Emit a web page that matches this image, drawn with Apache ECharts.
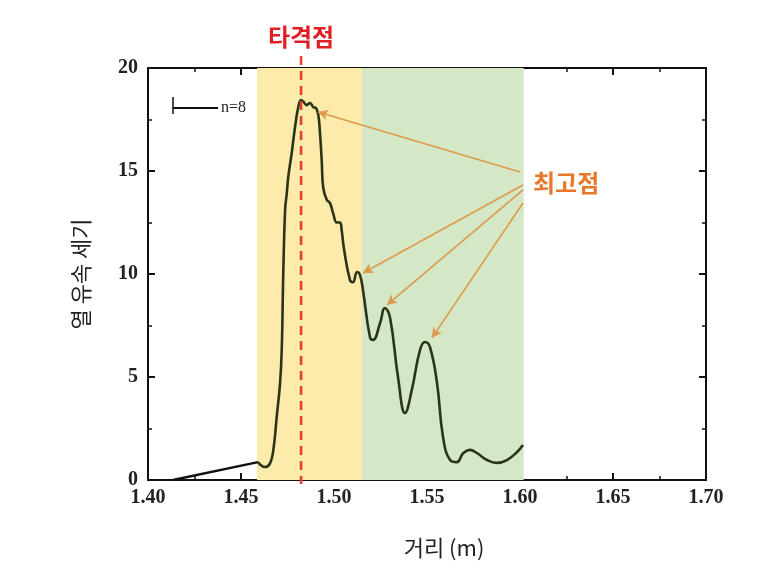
<!DOCTYPE html>
<html>
<head>
<meta charset="utf-8">
<script src="https://cdn.jsdelivr.net/npm/echarts@6/dist/echarts.min.js"></script>
<style>
html,body{margin:0;padding:0;background:#fff;}
#c{width:774px;height:584px;}
</style>
</head>
<body>
<div id="c"></div>
<script>
// ---- data ----
const distance = [1.4134,1.4591,1.4629,1.4656,1.4674,1.4692,1.4710,1.4719,1.4727,1.4737,1.4746,1.4754,1.4773,1.4790,1.4808,1.4823,1.4835,1.4853,1.4871,1.4889,1.4903,1.4916,1.4925,1.4934,1.4942,1.4961,1.4978,1.4995,1.5015,1.5032,1.5041,1.5054,1.5086,1.5102,1.5124,1.5140,1.5156,1.5194,1.5210,1.5247,1.5274,1.5301,1.5344,1.5382,1.5419,1.5462,1.5489,1.5516,1.5554,1.5586,1.5624,1.5661,1.5694,1.5731,1.5769,1.5823,1.5876,1.5930,1.5984,1.6016];
const intensity = [0,0.87,0.63,0.81,1.46,3.07,4.7,6.3,9.9,13.1,13.9,14.7,15.9,17.1,18.1,18.45,18.37,18.2,18.3,18.1,18.06,17.7,16.8,15.5,14.2,13.6,13.45,12.96,12.5,12.5,12.14,11.2,9.7,9.6,10.1,9.95,9.2,6.9,6.8,7.6,8.35,7.9,5.0,3.25,4.4,6.3,6.7,6.45,4.7,2.1,0.97,0.87,1.3,1.46,1.3,0.97,0.83,0.97,1.36,1.7];
const yellowBand = [1.4586, 1.5151];
const greenBand = [1.5151, 1.602];
const impactX = 1.4823;
const arrowStarts = [[1.6000,14.95],[1.6016,14.32],[1.6016,14.08],[1.6016,13.45]];
const arrowEnds = [[1.4914,17.86],[1.5156,10.05],[1.5285,8.5],[1.5527,6.9]];
const xTicks = {min:1.40, max:1.70, interval:0.05};
const yTicks = {min:0, max:20, interval:5};
const xTitle = '거리 (m)';
const yTitle = '열 유속 세기';
const impactLabel = '타격점';
const peakLabel = '최고점';
const scaleLabel = 'n=8';

const allPoints = distance.map((x,i)=>[x,intensity[i]]);
const baseSegment = allPoints.slice(0,2);   // straight baseline ramp
const measured = allPoints.slice(1);        // measured profile

const chart = echarts.init(document.getElementById('c'), null, {renderer:'canvas'});
const tickFont = {fontFamily:'Liberation Serif', fontWeight:'bold', fontSize:20, color:'#222'};
const axLine = {show:true, onZero:false, lineStyle:{color:'#111', width:2}};
const axTick = {show:true, inside:true, length:7, lineStyle:{color:'#111', width:2}};
const minTick = {show:true, splitNumber:2, length:4, lineStyle:{color:'#111', width:1.5}};
const cjk = 'Noto Sans CJK KR';

chart.setOption({
  animation:false,
  backgroundColor:'#fff',
  grid:{left:148, right:68, top:68, bottom:104, containLabel:false},
  xAxis:[{
    type:'value', min:xTicks.min, max:xTicks.max, interval:xTicks.interval,
    axisLine:axLine, axisTick:axTick, minorTick:minTick, splitLine:{show:false},
    axisLabel:Object.assign({margin:8, formatter:v=>v.toFixed(2)}, tickFont),
    name:xTitle, nameLocation:'middle', nameGap:57,
    nameTextStyle:{fontFamily:cjk, fontSize:22, color:'#222', padding:[0,0,0,34]}
  },{
    type:'value', position:'top', min:xTicks.min, max:xTicks.max, interval:xTicks.interval,
    axisLine:axLine, axisTick:axTick, minorTick:minTick, splitLine:{show:false},
    axisLabel:{show:false}
  }],
  yAxis:[{
    type:'value', min:yTicks.min, max:yTicks.max, interval:yTicks.interval,
    axisLine:axLine, axisTick:axTick, minorTick:minTick, splitLine:{show:false},
    axisLabel:Object.assign({margin:10}, tickFont),
    name:yTitle, nameLocation:'middle', nameGap:56,
    nameTextStyle:{fontFamily:cjk, fontSize:22, color:'#222'}
  },{
    type:'value', position:'right', min:yTicks.min, max:yTicks.max, interval:yTicks.interval,
    axisLine:axLine, axisTick:axTick, minorTick:minTick, splitLine:{show:false},
    axisLabel:{show:false}
  }],
  series:[{
    type:'line', data:[], z:1, silent:true,
    markArea:{
      silent:true,
      data:[
        [{xAxis:yellowBand[0], itemStyle:{color:'#fcebab'}},{xAxis:yellowBand[1]}],
        [{xAxis:greenBand[0], itemStyle:{color:'#d5e8c5'}},{xAxis:greenBand[1]}]
      ]
    }
  },{
    type:'line', data:baseSegment, z:3, symbol:'none', smooth:false,
    lineStyle:{width:2.4, color:'#111'}, silent:true
  },{
    type:'line', data:measured, z:3, symbol:'none', smooth:0.45,
    lineStyle:{width:2.6, color:'#2a3416'}, silent:true
  },{
    type:'line', data:[], z:4, silent:true,
    markLine:{
      silent:true, symbol:['none','arrow'], symbolSize:[8,10],
      label:{show:false},
      lineStyle:{color:'#dc9a4e', width:1.6, type:'solid'},
      data: arrowStarts.map((s,i)=>[{coord:s},{coord:arrowEnds[i]}])
    }
  }]
});

// annotations positioned from data coordinates
const toPx = v => chart.convertToPixel({xAxisIndex:0, yAxisIndex:0}, v);
const impactPx = toPx([impactX, 0]);
const arrowPx = toPx(arrowStarts[1]);
const cornerPx = toPx([xTicks.min, yTicks.max]);
chart.setOption({
  graphic:[
    {type:'line', z:10, shape:{x1:impactPx[0], y1:56, x2:impactPx[0], y2:impactPx[1]+4},
     style:{stroke:'#e8402a', lineWidth:2.6, lineDash:[9,6]}},
    {type:'text', z:10, x:impactPx[0], y:37,
     style:{text:impactLabel, fill:'#e01e26', font:'bold 24px "Noto Sans CJK KR"', textAlign:'center', textVerticalAlign:'middle'}},
    {type:'text', z:10, x:arrowPx[0]+10, y:arrowPx[1]-2,
     style:{text:peakLabel, fill:'#e8792c', font:'bold 24px "Noto Sans CJK KR"', textAlign:'left', textVerticalAlign:'middle'}},
    {type:'line', z:10, shape:{x1:cornerPx[0]+25, y1:cornerPx[1]+29, x2:cornerPx[0]+25, y2:cornerPx[1]+46}, style:{stroke:'#111', lineWidth:1.5}},
    {type:'line', z:10, shape:{x1:cornerPx[0]+25, y1:cornerPx[1]+40, x2:cornerPx[0]+70, y2:cornerPx[1]+40}, style:{stroke:'#111', lineWidth:2.2}},
    {type:'text', z:10, x:cornerPx[0]+73, y:cornerPx[1]+40,
     style:{text:scaleLabel, fill:'#222', font:'16px "Liberation Serif"', textAlign:'left', textVerticalAlign:'middle'}}
  ]
});
</script>
</body>
</html>
